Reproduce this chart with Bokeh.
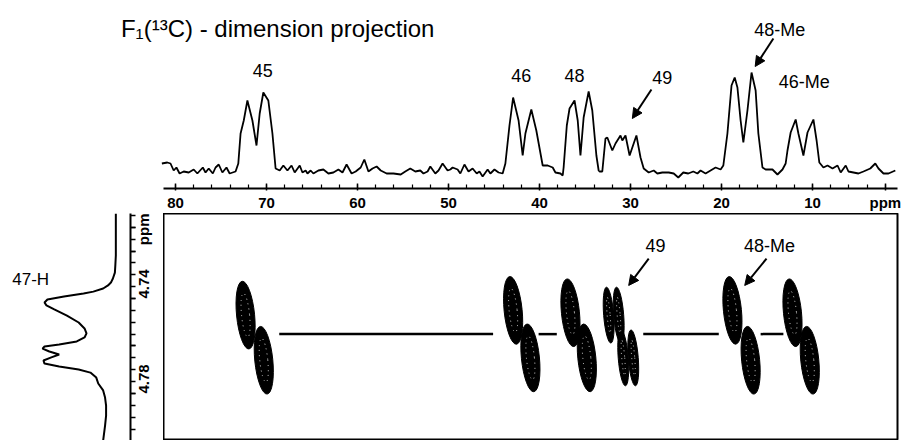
import math
import numpy as np
from bokeh.plotting import figure
from bokeh.layouts import column, row
from bokeh.models import Range1d, FixedTicker, Label, Arrow, NormalHead
from bokeh.embed import file_html
from bokeh.resources import INLINE

# ---------------- data ----------------
# F1 (13C) projection: chemical shift (ppm) and intensity (arbitrary units)
c13_ppm = [81.5, 80.9, 80.55, 80.2, 79.9, 79.55, 79.1, 78.55, 78.0, 77.6, 77.0, 76.7, 76.35, 75.9,
           75.6, 75.25, 74.85, 74.4, 74.05, 73.4, 73.1, 72.85, 72.5, 72.1, 71.55, 71.1, 70.75, 70.35,
           69.8, 69.35, 69.0, 68.55, 68.15, 67.7, 67.25, 66.9, 66.35, 66.05, 65.7, 65.5, 65.15, 64.85,
           64.3, 63.75, 63.2, 62.65, 62.1, 61.65, 61.2, 60.65, 60.2, 59.65, 59.25, 58.8, 58.35, 57.9,
           57.45, 56.8, 56.05, 55.25, 54.75, 54.2, 53.65, 53.1, 52.75, 52.3, 52.0, 51.45, 51.1, 50.65,
           50.1, 49.8, 49.55, 49.0, 48.7, 48.25, 47.8, 47.35, 46.9, 46.6, 46.25, 45.7, 45.4, 44.95,
           44.5, 44.05, 43.75, 43.3, 42.9, 42.3, 41.85, 41.55, 40.9, 40.35, 39.65, 39.1, 38.55, 38.25,
           37.7, 37.45, 37.35, 37.0, 36.7, 36.15, 35.8, 35.5, 35.15, 34.6, 34.2, 33.75, 33.5, 33.4,
           33.1, 32.75, 32.55, 32.0, 31.65, 31.1, 30.9, 30.55, 30.1, 29.35, 28.9, 28.55, 28.0, 27.45,
           27.05, 26.5, 25.8, 25.25, 24.75, 24.2, 23.65, 23.1, 22.65, 22.3, 21.75, 21.2, 20.65, 20.1,
           19.8, 19.35, 18.9, 18.55, 18.25, 17.9, 17.6, 17.15, 16.7, 16.25, 15.95, 15.5, 15.15, 14.4,
           13.85, 13.3, 12.95, 12.75, 12.4, 11.85, 11.55, 11.0, 10.55, 9.9, 9.55, 9.25, 8.8, 8.35,
           7.8, 7.25, 6.9, 6.35, 6.05, 5.5, 4.95, 4.4, 3.65, 3.1, 2.75, 2.2, 1.65, 0.9]
c13_int = [0.07, 0.08, 0.07, 0.0, 0.03, -0.03, -0.01, -0.02, 0.01, -0.03, 0.03, -0.02, 0.02, -0.03,
           0.03, 0.06, -0.02, 0.03, -0.03, -0.01, 0.07, 0.37, 0.50, 0.70, 0.50, 0.25, 0.57, 0.78,
           0.70, 0.37, 0.02, 0.0, 0.05, 0.0, 0.05, -0.02, 0.05, -0.02, 0.0, -0.03, 0.0, -0.03,
           0.0, 0.01, -0.03, -0.02, 0.01, -0.02, 0.06, -0.03, -0.01, 0.03, 0.11, -0.01, 0.02, 0.04,
           0.0, -0.03, -0.03, -0.04, -0.01, 0.02, -0.01, 0.0, -0.03, -0.01, 0.04, -0.03, 0.0, 0.07,
           0.0, 0.01, 0.03, 0.01, -0.03, 0.06, -0.01, 0.02, -0.03, -0.01, -0.06, 0.01, -0.03, 0.01,
           -0.02, -0.03, 0.07, 0.45, 0.73, 0.50, 0.15, 0.37, 0.61, 0.40, 0.05, 0.05, 0.03, -0.02,
           -0.03, -0.05, 0.03, 0.45, 0.62, 0.70, 0.50, 0.15, 0.53, 0.79, 0.60, 0.15, 0.0, -0.01,
           -0.01, 0.32, 0.33, 0.20, 0.27, 0.35, 0.30, 0.35, 0.15, 0.35, 0.13, 0.02, -0.02, 0.0,
           -0.03, -0.02, -0.02, -0.03, -0.07, -0.02, -0.03, -0.01, -0.03, 0.0, -0.03, 0.0, 0.03, 0.01,
           0.05, 0.37, 0.85, 0.93, 0.83, 0.50, 0.28, 0.60, 0.98, 0.80, 0.37, 0.03, 0.01, 0.01,
           -0.04, 0.01, 0.07, 0.20, 0.38, 0.51, 0.37, 0.15, 0.38, 0.51, 0.30, 0.08, 0.03, 0.05,
           0.02, 0.05, -0.02, 0.05, -0.01, -0.02, -0.03, -0.01, 0.02, 0.07, 0.02, -0.03, -0.03, 0.0]

# F2 (1H) trace of 47-H: chemical shift (ppm) and intensity
h1_ppm = [4.7042, 4.7156, 4.7219, 4.7261, 4.7291, 4.7316, 4.7333, 4.7345, 4.7358, 4.7371, 4.7379,
          4.7392, 4.7404, 4.7417, 4.7429, 4.7446, 4.7472, 4.7501, 4.7526, 4.7547, 4.7564, 4.7581,
          4.7594, 4.7602, 4.7611, 4.7623, 4.7636, 4.7648, 4.7661, 4.7674, 4.7686, 4.7699, 4.7712,
          4.7733, 4.7758, 4.7787, 4.7817, 4.7851, 4.7893, 4.7935, 4.7998]
h1_int = [0.0, 0.0, 0.0, 0.007, 0.013, 0.04, 0.067, 0.107, 0.173, 0.307, 0.44,
          0.707, 0.933, 0.973, 0.947, 0.84, 0.667, 0.507, 0.427, 0.40, 0.427, 0.533,
          0.773, 0.973, 1.0, 0.907, 0.773, 0.88, 0.987, 0.973, 0.773, 0.507, 0.347,
          0.267, 0.24, 0.173, 0.147, 0.133, 0.133, 0.147, 0.173]

# 2D cross peaks (13C ppm, 1H ppm)
cross_c13 = [72.3, 70.3, 42.9, 41.0, 36.6, 34.8, 18.8, 16.8, 12.2, 10.3]
cross_h1 = [4.747, 4.766, 4.745, 4.765, 4.746, 4.765, 4.745, 4.766, 4.746, 4.766]
cross49_c13 = [32.4, 31.3, 30.8, 29.7]
cross49_h1 = [4.747, 4.747, 4.765, 4.765]

# connecting lines between cross-peak pairs (13C ppm start / end, at 1H ppm)
link_start = [68.6, 40.1, 28.6, 15.7]
link_end = [45.1, 38.1, 20.3, 13.2]
link_h1 = [4.755, 4.755, 4.755, 4.755]

# axis ticks
c13_ticks = [80, 70, 60, 50, 40, 30, 20, 10, 2]
c13_tick_labels = ["80", "70", "60", "50", "40", "30", "20", "10", "ppm"]
h1_ticks = [4.71, 4.72, 4.74, 4.76, 4.78]
h1_tick_labels = ["ppm", "", "4.74", "", "4.78"]

# annotation texts and their positions (13C ppm, intensity)
proj_labels = ["45", "46", "48", "49", "48-Me", "46-Me"]
proj_label_x = [70.4, 42.0, 36.15, 26.5, 13.6, 10.9]
proj_label_y = [1.0, 0.95, 0.95, 0.93, 1.41, 0.89]

FONT = "Liberation Sans"

# ---------------- layout geometry ----------------
W, H = 901, 440
FRAME_L, FRAME_R = 163, 897          # left / right edge of the 2D frame (px)
TOP_H = 213                          # height of the projection panel
TOP_AXIS_BORDER = 25
LEFT_AXIS_BORDER = 30

X_LEFT, X_RIGHT = 81.32, 0.66        # 13C ppm shown across the 2D frame
frame_w = FRAME_R - FRAME_L
ppm_per_px = (X_LEFT - X_RIGHT) / frame_w
x_range = Range1d(X_LEFT, X_RIGHT)
top_x_range = Range1d(X_LEFT + ppm_per_px * FRAME_L, X_RIGHT)
y_range = Range1d(4.79979, 4.70421)

# ---------------- projection panel ----------------
top = figure(width=W, height=TOP_H, x_range=top_x_range, y_range=Range1d(-0.18, 1.70),
             output_backend="svg", toolbar_location=None, y_axis_location=None,
             min_border_left=0, min_border_right=W - FRAME_R, min_border_top=0,
             min_border_bottom=TOP_AXIS_BORDER)
top.outline_line_color = None
top.grid.visible = False
top.line(c13_ppm, c13_int, line_color="black", line_width=1.8)

xa = top.xaxis[0]
xa.bounds = (X_RIGHT, X_LEFT)
xa.ticker = FixedTicker(ticks=c13_ticks, minor_ticks=list(np.arange(2, 82, 2)))
xa.major_label_overrides = {t: s for t, s in zip(c13_ticks, c13_tick_labels)}
xa.axis_line_width = 2
xa.axis_line_color = "black"
xa.major_tick_in = 5
xa.major_tick_out = 2
xa.minor_tick_in = 4
xa.minor_tick_out = 0
xa.major_tick_line_width = 1.5
xa.minor_tick_line_width = 1.2
xa.major_label_standoff = 3
xa.major_label_text_font = FONT
xa.major_label_text_font_size = "15px"
xa.major_label_text_font_style = "bold"
xa.major_label_text_color = "black"

top.add_layout(Label(x=86.0, y=1.42, text="F\u2081(\u00b9\u00b3C) - dimension projection",
                     text_align="left", text_baseline="middle", text_font=FONT,
                     text_font_size="24px", text_color="black"))
for t, lx, ly in zip(proj_labels, proj_label_x, proj_label_y):
    top.add_layout(Label(x=lx, y=ly, text=t, text_align="center", text_baseline="middle",
                         text_font=FONT, text_font_size="18px", text_color="black"))
top.add_layout(Arrow(end=NormalHead(size=10, fill_color="black", line_color="black"),
                     x_start=27.7, y_start=0.81, x_end=29.8, y_end=0.52,
                     line_width=2, line_color="black"))
top.add_layout(Arrow(end=NormalHead(size=10, fill_color="black", line_color="black"),
                     x_start=14.3, y_start=1.32, x_end=16.3, y_end=1.04,
                     line_width=2, line_color="black"))

# ---------------- left: 1H trace ----------------
left = figure(width=FRAME_L, height=H - TOP_H, x_range=Range1d(1.5733, -0.2), y_range=y_range,
              output_backend="svg", toolbar_location=None, x_axis_location=None,
              y_axis_location="right", min_border_left=0, min_border_right=LEFT_AXIS_BORDER,
              min_border_top=0, min_border_bottom=0)
left.outline_line_color = None
left.grid.visible = False
left.line(h1_int, h1_ppm, line_color="black", line_width=2)
ya = left.yaxis[0]
ya.ticker = FixedTicker(ticks=h1_ticks, minor_ticks=list(np.round(np.arange(4.705, 4.80, 0.005), 3)))
ya.major_label_overrides = {t: s for t, s in zip(h1_ticks, h1_tick_labels)}
ya.axis_line_width = 2
ya.major_tick_in = 0
ya.major_tick_out = 5
ya.minor_tick_in = 0
ya.minor_tick_out = 5
ya.major_tick_line_width = 1.5
ya.minor_tick_line_width = 1.5
ya.major_label_standoff = 8
ya.major_label_orientation = math.pi / 2
ya.major_label_text_font = FONT
ya.major_label_text_font_size = "15px"
ya.major_label_text_font_style = "bold"
ya.major_label_text_color = "black"
left.add_layout(Label(x=1.413, y=4.732, text="47-H", text_align="left", text_baseline="middle",
                      text_font=FONT, text_font_size="17px", text_color="black"))

# ---------------- main: 2D map ----------------
main = figure(width=W - FRAME_L, height=H - TOP_H, x_range=x_range, y_range=y_range,
              output_backend="svg", toolbar_location=None, x_axis_location=None,
              y_axis_location=None, min_border_left=0, min_border_right=W - FRAME_R,
              min_border_top=0, min_border_bottom=0)
main.grid.visible = False
main.outline_line_color = "black"
main.outline_line_width = 2

main.segment(x0=link_start, y0=link_h1, x1=link_end, y1=link_h1, line_color="black", line_width=2.5)

main.ellipse(x=cross_c13, y=cross_h1, width=18, height=68, width_units="screen",
             height_units="screen", angle=0.1, fill_color="black", line_color="black", line_width=1)
main.ellipse(x=cross_c13, y=cross_h1, width=8, height=44, width_units="screen",
             height_units="screen", angle=0.1, fill_color=None, line_color="white",
             line_width=0.8, line_dash="1 4")
main.ellipse(x=cross49_c13, y=cross49_h1, width=10, height=56, width_units="screen",
             height_units="screen", angle=0.08, fill_color="black", line_color="black", line_width=1)
main.ellipse(x=cross49_c13, y=cross49_h1, width=3, height=36, width_units="screen",
             height_units="screen", angle=0.08, fill_color=None, line_color="white",
             line_width=0.8, line_dash="1 4")

main.add_layout(Label(x=27.25, y=4.7177, text="49", text_align="center", text_baseline="middle",
                      text_font=FONT, text_font_size="18px", text_color="black"))
main.add_layout(Label(x=14.73, y=4.7177, text="48-Me", text_align="center", text_baseline="middle",
                      text_font=FONT, text_font_size="18px", text_color="black"))
main.add_layout(Arrow(end=NormalHead(size=10, fill_color="black", line_color="black"),
                      x_start=28.0, y_start=4.7232, x_end=30.2, y_end=4.7345,
                      line_width=2, line_color="black"))
main.add_layout(Arrow(end=NormalHead(size=10, fill_color="black", line_color="black"),
                      x_start=15.05, y_start=4.7232, x_end=17.45, y_end=4.7345,
                      line_width=2, line_color="black"))

layout = column(top, row(left, main))

with open("out.html", "w") as f:
    f.write(file_html(layout, INLINE))
